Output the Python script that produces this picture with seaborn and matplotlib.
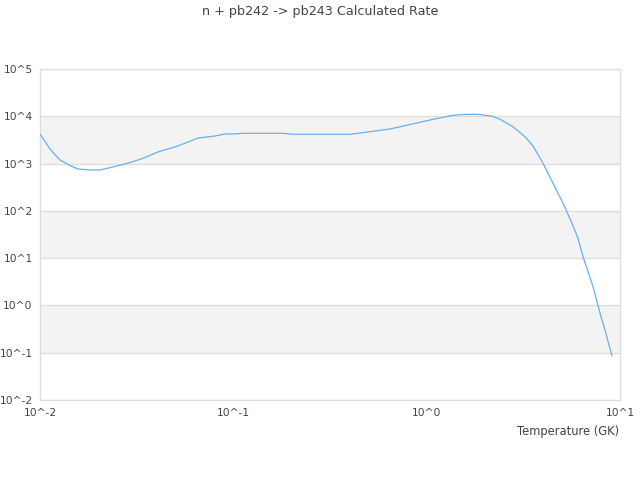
import matplotlib
matplotlib.use("Agg")
import matplotlib.pyplot as plt
import seaborn as sns
import pandas as pd

temperature = [0.01, 0.01127, 0.01269, 0.01429, 0.01572, 0.01814, 0.02043, 0.02443,
               0.02992, 0.03493, 0.04076, 0.05173, 0.06566, 0.08038, 0.09057, 0.1020,
               0.1122, 0.1807, 0.2037, 0.4014, 0.5093, 0.6461, 0.8913, 1.040, 1.368,
               1.617, 1.843, 2.178, 2.395, 2.796, 3.227, 3.548, 3.998, 4.503, 5.072,
               5.580, 6.065, 6.438, 7.252, 7.88, 8.47, 9.09]
rate = [4230, 2030, 1190, 910, 767, 731, 731, 867,
        1080, 1345, 1760, 2355, 3475, 3830, 4230, 4230,
        4365, 4365, 4160, 4160, 4720, 5385, 7210, 8350, 10500,
        11000, 11000, 10100, 8640, 6025, 3700, 2355, 1014, 383, 144.5,
        61.1, 26.3, 10.74, 2.49, 0.692, 0.249, 0.0853]

x_ticks = [0.01, 0.1, 1, 10]
x_tick_labels = ["10^-2", "10^-1", "10^0", "10^1"]
y_ticks = [1e-2, 1e-1, 1e0, 1e1, 1e2, 1e3, 1e4, 1e5]
y_tick_labels = ["10^-2", "10^-1", "10^0", "10^1", "10^2", "10^3", "10^4", "10^5"]
bands = [(1e3, 1e4), (1e1, 1e2), (1e-1, 1e0)]

title = "n + pb242 -> pb243 Calculated Rate"
x_label = "Temperature (GK)"

df = pd.DataFrame({"T": temperature, "rate": rate})

sns.set_theme(style="white")
plt.rcParams['font.family'] = ['DejaVu Sans']

fig = plt.figure(figsize=(6.4, 4.8), dpi=100)
ax = fig.add_axes([0.0625, 1 - 400 / 480, 0.90625, 331 / 480])

for lo, hi in bands:
    ax.axhspan(lo, hi, color="#f3f3f3", zorder=0, lw=0)
for yt in y_ticks:
    ax.axhline(yt, color="#dddddd", lw=0.9, zorder=1)

sns.lineplot(data=df, x="T", y="rate", ax=ax, color="#6aaeef", lw=0.9, zorder=3)

ax.set_xscale("log")
ax.set_yscale("log")
ax.set_xlim(0.01, 10)
ax.set_ylim(1e-2, 1e5)
ax.set_xticks(x_ticks)
ax.set_xticklabels(x_tick_labels)
ax.set_yticks(y_ticks)
ax.set_yticklabels(y_tick_labels)
ax.minorticks_off()
ax.tick_params(axis="both", length=0, labelsize=7.7, colors="#444444")
ax.tick_params(axis="y", pad=5.3)
ax.tick_params(axis="x", pad=6)
ax.set_xlabel("")
ax.set_ylabel("")

for s in ax.spines.values():
    s.set_color("#dddddd")
    s.set_linewidth(0.9)

fig.text(619 / 640, 1 - 431 / 480, x_label, ha="right", va="center",
         fontsize=8.3, color="#444444")
fig.text(0.5, 1 - 12 / 480, title, ha="center", va="center",
         fontsize=9.2, color="#444444")

fig.savefig("out.png", dpi=100)
